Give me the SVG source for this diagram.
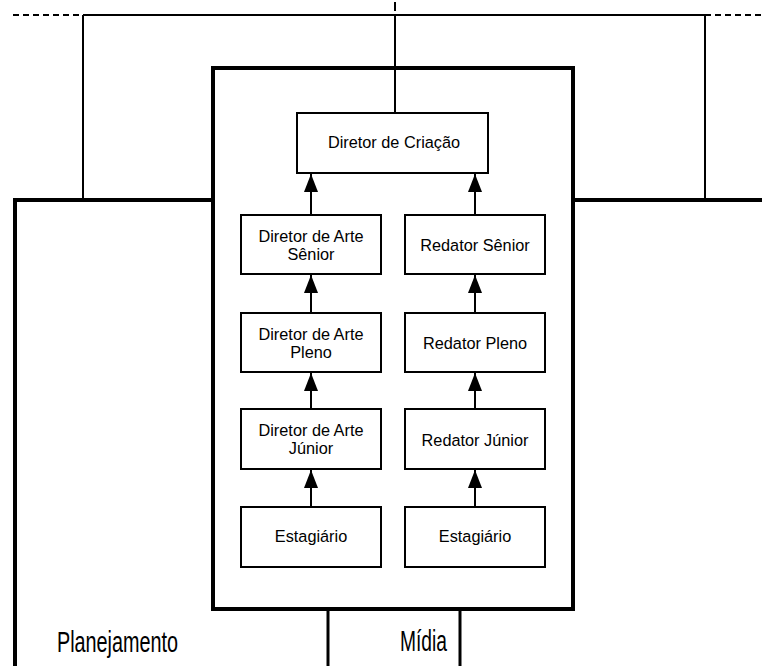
<svg xmlns="http://www.w3.org/2000/svg" width="762" height="666" viewBox="0 0 762 666">
  <defs>
    <marker id="arrow" viewBox="0 0 18 14" refX="18" refY="7" markerWidth="18" markerHeight="14" markerUnits="userSpaceOnUse" orient="auto">
      <path d="M0,0 L18,7 L0,14 Z" fill="#000"/>
    </marker>
  </defs>
  <style>
    .thin { fill: none; stroke: #000; stroke-width: 2; }
    .dash { fill: none; stroke: #000; stroke-width: 2; stroke-dasharray: 6 4; }
    .thick { fill: none; stroke: #000; stroke-width: 4; }
    .mid { fill: none; stroke: #000; stroke-width: 3; }
    .box { fill: #fff; stroke: #000; stroke-width: 2; }
    .lbl { font-family: "Liberation Sans", Arial, sans-serif; font-size: 16.3px; text-anchor: middle; fill: #000; }
    .big { font-family: "Liberation Sans", Arial, sans-serif; font-size: 29px; text-anchor: middle; fill: #000; }
    .edge { fill: none; stroke: #000; stroke-width: 2; marker-end: url(#arrow); }
  </style>
  <rect width="762" height="666" fill="#fff"/>

  <!-- outer departments -->
  <g id="planejamento">
    <polyline class="thick" points="15,666 15,200 213,200"/>
    <text class="big" x="117.5" y="652" textLength="121" lengthAdjust="spacingAndGlyphs">Planejamento</text>
  </g>
  <g id="midia">
    <polyline class="thick" points="573,200 762,200"/>
    <text class="big" x="423.5" y="651" textLength="47" lengthAdjust="spacingAndGlyphs">Mídia</text>
  </g>

  <!-- connectors -->
  <g id="connectors">
    <line class="dash" x1="13" y1="15" x2="83" y2="15"/>
    <line class="thin" x1="83" y1="15" x2="705" y2="15"/>
    <line class="dash" x1="705" y1="15" x2="762" y2="15"/>
    <line class="thin" x1="83" y1="15" x2="83" y2="200"/>
    <line class="thin" x1="705" y1="15" x2="705" y2="200"/>
    <line class="thin" x1="395" y1="2" x2="395" y2="11"/>
    <line class="thin" x1="395" y1="15" x2="395" y2="113"/>
    <line class="mid" x1="328" y1="609" x2="328" y2="666"/>
    <line class="mid" x1="460" y1="609" x2="460" y2="666"/>

    <line class="edge" x1="311" y1="215" x2="311" y2="174"/>
    <line class="edge" x1="475" y1="215" x2="475" y2="174"/>
    <line class="edge" x1="311" y1="313" x2="311" y2="275"/>
    <line class="edge" x1="475" y1="313" x2="475" y2="275"/>
    <line class="edge" x1="311" y1="409" x2="311" y2="373"/>
    <line class="edge" x1="475" y1="409" x2="475" y2="373"/>
    <line class="edge" x1="311" y1="507" x2="311" y2="470"/>
    <line class="edge" x1="475" y1="507" x2="475" y2="470"/>
  </g>

  <!-- creative department frame -->
  <g id="criacao">
    <rect class="thick" x="213" y="68" width="360" height="541"/>
  </g>

  <g id="diretor-criacao">
    <rect class="box" x="297" y="113" width="191" height="60"/>
    <text class="lbl" x="394" y="148">Diretor de Criação</text>
  </g>

  <g id="da-senior">
    <rect class="box" x="241" y="215" width="140" height="59"/>
    <text class="lbl" x="311" y="242">Diretor de Arte</text>
    <text class="lbl" x="311" y="259.5">Sênior</text>
  </g>
  <g id="red-senior">
    <rect class="box" x="405" y="215" width="140" height="59"/>
    <text class="lbl" x="475" y="251">Redator Sênior</text>
  </g>

  <g id="da-pleno">
    <rect class="box" x="241" y="313" width="140" height="59"/>
    <text class="lbl" x="311" y="340">Diretor de Arte</text>
    <text class="lbl" x="311" y="357.5">Pleno</text>
  </g>
  <g id="red-pleno">
    <rect class="box" x="405" y="313" width="140" height="59"/>
    <text class="lbl" x="475" y="349">Redator Pleno</text>
  </g>

  <g id="da-junior">
    <rect class="box" x="241" y="409" width="140" height="60"/>
    <text class="lbl" x="311" y="436">Diretor de Arte</text>
    <text class="lbl" x="311" y="453.5">Júnior</text>
  </g>
  <g id="red-junior">
    <rect class="box" x="405" y="409" width="140" height="60"/>
    <text class="lbl" x="475" y="445.5">Redator Júnior</text>
  </g>

  <g id="estagiario-arte">
    <rect class="box" x="241" y="507" width="140" height="60"/>
    <text class="lbl" x="311" y="542">Estagiário</text>
  </g>
  <g id="estagiario-redacao">
    <rect class="box" x="405" y="507" width="140" height="60"/>
    <text class="lbl" x="475" y="542">Estagiário</text>
  </g>
</svg>
